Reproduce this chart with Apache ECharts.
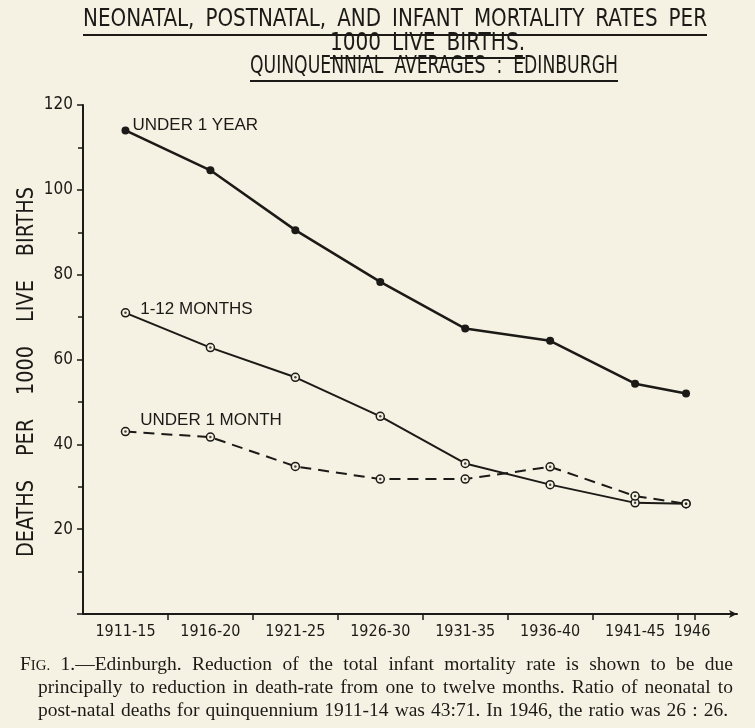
<!DOCTYPE html>
<html>
<head>
<meta charset="utf-8">
<script src="https://cdn.jsdelivr.net/npm/echarts@6/dist/echarts.min.js"></script>
<style>
html,body{margin:0;padding:0;background:#f5f2e3;}
#chart{width:755px;height:728px;}
</style>
</head>
<body>
<div id="chart"></div>
<script>
// ---- data ----
const periods = ['1911-15','1916-20','1921-25','1926-30','1931-35','1936-40','1941-45','1946'];
const periodMid = [1913.5, 1918.5, 1923.5, 1928.5, 1933.5, 1938.5, 1943.5, 1946.5];
const periodBounds = [1916, 1921, 1926, 1931, 1936, 1941, 1946, 1947];
const underOneYear = [114, 104.6, 90.5, 78.3, 67.3, 64.4, 54.3, 52];
const oneToTwelveMonths = [71, 62.8, 55.8, 46.6, 35.5, 30.5, 26.2, 26];
const underOneMonth = [43, 41.7, 34.8, 31.8, 31.8, 34.7, 27.8, 26];
const yTicks = [0, 20, 40, 60, 80, 100, 120];
const seriesNames = ['UNDER 1 YEAR', '1-12 MONTHS', 'UNDER 1 MONTH'];
const titleLines = ['NEONATAL, POSTNATAL, AND INFANT MORTALITY RATES PER', '1000 LIVE BIRTHS.', 'QUINQUENNIAL AVERAGES : EDINBURGH'];
const captionLines = [
  'FIG. 1.—Edinburgh. Reduction of the total infant mortality rate is shown to be due',
  'principally to reduction in death-rate from one to twelve months. Ratio of neonatal to',
  'post-natal deaths for quinquennium 1911-14 was 43:71. In 1946, the ratio was 26 : 26.'
];
const yAxisName = 'DEATHS PER 1000 LIVE BIRTHS';

// ---- styling helpers ----
const INK = '#1b1a17';
const BG = '#f5f2e3';
const SANS = '"DejaVu Sans Condensed", "DejaVu Sans", sans-serif';
const SERIF = '"Liberation Serif", "DejaVu Serif", serif';
const mctx = document.createElement('canvas').getContext('2d');
const measure = (t, font) => { mctx.font = font; return mctx.measureText(t).width; };

const graphics = [];
// justified words along a line (start -> end, horizontal or upward vertical)
function placeWords(words, start, end, cross, font, minGap, vertical) {
  const nat = words.map(w => measure(w, font));
  const natTotal = nat.reduce((a, b) => a + b, 0);
  const span = Math.abs(end - start);
  const squeeze = Math.min(1, (span - minGap * (words.length - 1)) / natTotal);
  const widths = nat.map(w => w * squeeze);
  const total = natTotal * squeeze;
  const gap = words.length > 1 ? (span - total) / (words.length - 1) : 0;
  let pos = start;
  words.forEach((w, i) => {
    const el = { type: 'text', scaleX: squeeze,
                 style: { text: w, fill: INK, font: font, textAlign: 'left', textVerticalAlign: 'middle' } };
    if (vertical) { el.x = cross; el.y = pos; el.rotation = Math.PI / 2; pos -= widths[i] + gap; }
    else { el.x = pos; el.y = cross; pos += widths[i] + gap; }
    graphics.push(el);
  });
}

// title
const TFONT = '24px ' + SANS;
const titleTargets = [[83, 707, 20], [330, 525, 44], [250, 618, 67]];
const ulines = [[83, 707, 35], [330, 525, 58], [250, 618, 81]];
titleLines.forEach((t, i) => {
  placeWords(t.split(' '), titleTargets[i][0], titleTargets[i][1], titleTargets[i][2], TFONT, 11, false);
  graphics.push({ type: 'line', shape: { x1: ulines[i][0], y1: ulines[i][2], x2: ulines[i][1], y2: ulines[i][2] },
    style: { stroke: INK, lineWidth: 2 } });
});

// y axis name (vertical, reading upward from y=557 to y=187)
const NFONT = '23px ' + SANS;
placeWords(yAxisName.split(' '), 557, 187, 27, NFONT, 24, true);

// caption (justified serif lines)
const CSIZE = 19.5;
const CFONT = CSIZE + 'px ' + SERIF;
const capBox = [[20, 733, 665], [38, 733, 688], [38, 728, 711]];
captionLines.forEach((t, i) => {
  let words = t.split(' ');
  let lead = 0;
  if (i === 0) {
    const fW = measure('F', CFONT);
    const igFont = (CSIZE * 0.76) + 'px ' + SERIF;
    const igW = measure('IG.', igFont);
    graphics.push({ type: 'text', x: capBox[0][0], y: capBox[0][2], style: { text: 'F', fill: INK, font: CFONT, textVerticalAlign: 'middle' } });
    graphics.push({ type: 'text', x: capBox[0][0] + fW, y: capBox[0][2] + 1, style: { text: 'IG.', fill: INK, font: igFont, textVerticalAlign: 'middle' } });
    lead = fW + igW;
    words = words.slice(1);
  }
  const widths = words.map(w => measure(w, CFONT));
  const total = widths.reduce((a, b) => a + b, 0);
  const avail = capBox[i][1] - capBox[i][0] - lead;
  const nGaps = words.length - (i === 0 ? 0 : 1);
  let sq = 1;
  const minGap = 4;
  if (total + minGap * nGaps > avail) sq = (avail - minGap * nGaps) / total;
  const gap = (avail - total * sq) / nGaps;
  let pos = capBox[i][0] + lead + (i === 0 ? gap : 0);
  words.forEach((w, k) => {
    graphics.push({ type: 'text', x: pos, y: capBox[i][2], scaleX: sq,
      style: { text: w, fill: INK, font: CFONT, textVerticalAlign: 'middle' } });
    pos += widths[k] * sq + gap;
  });
});

// ---- chart ----
const pair = arr => periodMid.map((x, i) => [x, arr[i]]);
const withLabel = (arr, name, dist, off) => pair(arr).map((p, i) => i === 0 ? {
  value: p,
  label: { show: true, formatter: name, position: 'right', distance: dist, offset: off,
           color: INK, fontFamily: 'Liberation Sans', fontSize: 17 }
} : p);

const chart = echarts.init(document.getElementById('chart'), null, { renderer: 'canvas' });
chart.setOption({
  backgroundColor: BG,
  animation: false,
  grid: { left: 83, right: 18, top: 105, bottom: 114, containLabel: false },
  xAxis: {
    type: 'value', min: 1911, max: 1949.5,
    splitLine: { show: false },
    axisLine: { show: true, onZero: false, symbol: ['none', 'arrow'], symbolSize: [6, 8],
                lineStyle: { color: INK, width: 2 } },
    axisTick: { show: true, customValues: periodBounds, length: 6, lineStyle: { color: INK, width: 1.5 } },
    axisLabel: { customValues: periodMid, margin: 10, color: INK, fontFamily: SANS, fontSize: 16,
                 formatter: v => {
                   const lab = periods[periodMid.indexOf(v)] || '';
                   return lab === '1946' ? '{late|' + lab + '}' : lab;
                 },
                 rich: { late: { padding: [0, 0, 0, 12], color: INK, fontFamily: SANS, fontSize: 16 } } }
  },
  yAxis: {
    type: 'value', min: 0, max: 120, interval: 20,
    splitLine: { show: false },
    axisLine: { show: true, lineStyle: { color: INK, width: 2 } },
    axisTick: { show: true, length: 6, lineStyle: { color: INK, width: 1.5 } },
    minorTick: { show: true, splitNumber: 2, length: 5, lineStyle: { color: INK, width: 1.5 } },
    minorSplitLine: { show: false },
    axisLabel: { margin: 10, color: INK, fontFamily: SANS, fontSize: 17,
                 formatter: v => (v > 0 && yTicks.indexOf(v) >= 0) ? String(v) : '' }
  },
  graphic: graphics,
  series: [
    { name: seriesNames[0], type: 'line', data: withLabel(underOneYear, seriesNames[0], 3, [0, -5]),
      symbol: 'circle', symbolSize: 8, lineStyle: { color: INK, width: 2.5 },
      itemStyle: { color: INK } },
    { name: seriesNames[1], type: 'line', data: withLabel(oneToTwelveMonths, seriesNames[1], 10, [0, -4]),
      symbol: 'circle', symbolSize: 8, lineStyle: { color: INK, width: 2 },
      itemStyle: { color: BG, borderColor: INK, borderWidth: 1.5 } },
    { name: seriesNames[2], type: 'line', data: withLabel(underOneMonth, seriesNames[2], 10, [0, -11]),
      symbol: 'circle', symbolSize: 8, lineStyle: { color: INK, width: 2, type: [11, 7] },
      itemStyle: { color: BG, borderColor: INK, borderWidth: 1.5 } },
    { type: 'scatter', data: pair(oneToTwelveMonths), symbolSize: 2.5, silent: true, z: 5,
      itemStyle: { color: INK } },
    { type: 'scatter', data: pair(underOneMonth), symbolSize: 2.5, silent: true, z: 5,
      itemStyle: { color: INK } }
  ]
});
</script>
</body>
</html>
